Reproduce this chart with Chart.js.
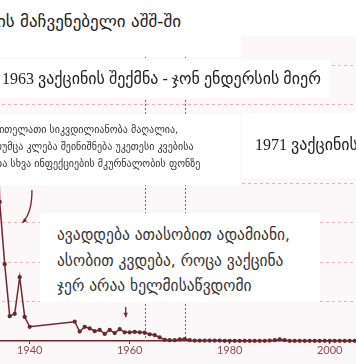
<!DOCTYPE html>
<html><head><meta charset="utf-8">
<script src="https://cdn.jsdelivr.net/npm/chart.js@4.4.1/dist/chart.umd.min.js"></script>
<style>
html,body{margin:0;padding:0;width:356px;height:364px;overflow:hidden;background:#fff;position:relative}
#bg{position:absolute;left:0;top:36px;width:356px;height:328px;background:#fcf7f8}
#wrap{position:absolute;left:-100px;top:0;width:560px;height:364px}
.box{position:absolute;background:#fff}
.t{position:absolute;white-space:nowrap;color:#222;font-family:"DejaVu Sans",sans-serif;line-height:1}
.s{font-family:"Liberation Serif","DejaVu Sans",serif}
</style></head>
<body>
<div id="bg"></div>
<div id="wrap"><canvas id="c" width="560" height="364"></canvas></div>

<div class="box" style="left:0;top:0;width:241px;height:57px"></div>
<div class="t" style="right:175px;top:13px;font-size:17px">წითელათი სიკვდილიანობის მაჩვენებელი აშშ-ში</div>

<div class="box" style="left:0;top:60px;width:330px;height:38px"></div>
<div class="t s" style="left:2px;top:71px;font-size:16px">1963 ვაქცინის შექმნა - ჯონ ენდერსის მიერ</div>

<div class="box" style="left:0;top:114px;width:240px;height:71px"></div>
<div class="t" style="left:-6px;top:125px;font-size:10px;color:#333">წითელათი სიკვდილიანობა მაღალია,</div>
<div class="t" style="left:-6px;top:142px;font-size:10px;color:#333">თუმცა კლება შეინიშნება უკეთესი კვებისა</div>
<div class="t" style="left:-6px;top:159px;font-size:10px;color:#333">და სხვა ინფექციების მკურნალობის ფონზე</div>

<div class="box" style="left:241px;top:113px;width:120px;height:65px"></div>
<div class="t s" style="left:255px;top:137px;font-size:16px">1971 ვაქცინის</div>

<div class="box" style="left:40px;top:213px;width:280px;height:89px"></div>
<div class="t" style="left:57px;top:228px;font-size:15.5px;color:#333">ავადდება ათასობით ადამიანი,</div>
<div class="t" style="left:57px;top:253.5px;font-size:15.5px;color:#333">ასობით კვდება, როცა ვაქცინა</div>
<div class="t" style="left:57px;top:279px;font-size:15.5px;color:#333">ჯერ არაა ხელმისაწვდომი</div>

<script>
// ---- data (measles mortality, relative units; axis labels not visible in the crop) ----
const years = [1933,1934,1935,1936,1937,1938,1939,1940,
  1949,1950,1951,1952,1953,1954,1955,1956,1957,1958,1959,1960,1961,1962,1963,1964,1965,1966,1967,1968,1969,1970,
  1971,1972,1973,1974,1975,1976,1977,1978,1979,1980,1981,1982,1983,1984,1985,1986,1987,1988,1989,1990,
  1991,1992,1993,1994,1995,1996,1997,1998,1999,2000,2001,2002,2003,2004,2005,2006,2007,2008,2009,2010];
const deathRate = [9.0,3.53,1.95,0.63,0.69,1.62,0.61,0.36,
  0.49,0.24,0.36,0.32,0.25,0.28,0.18,0.28,0.20,0.30,0.22,0.22,0.23,0.22,0.21,0.17,0.15,0.09,0.03,0.02,0.02,0.04,
  0.05,0.02,0.01,0.01,0.01,0.01,0.01,0.01,0.005,0.005,0.005,0.005,0.005,0.005,0.005,0.005,0.005,0.01,0.02,0.04,
  0.02,0.005,0.005,0.005,0.005,0.005,0.005,0.005,0.005,0.005,0.005,0.005,0.005,0.005,0.005,0.005,0.005,0.005,0.005,0.005];
const markerYears = [1963, 1971];
const xTickStep = 20;

const MAROON = '#6e2630';
const annot = {
  id: 'annot',
  beforeDatasetsDraw(chart) {
    const {ctx, chartArea: a, scales: {x}} = chart;
    ctx.save();
    ctx.strokeStyle = '#9a5860';
    ctx.lineWidth = 1;
    ctx.setLineDash([2, 2]);
    markerYears.forEach(yr => {
      const px = Math.round(x.getPixelForValue(yr)) + 0.5;
      ctx.beginPath(); ctx.moveTo(px, a.top); ctx.lineTo(px, a.bottom); ctx.stroke();
    });
    ctx.restore();
  },
  afterDatasetsDraw(chart) {
    const {ctx, scales: {x, y}} = chart;
    ctx.save();
    ctx.strokeStyle = MAROON; ctx.fillStyle = MAROON; ctx.lineWidth = 1.3;
    const p0 = [x.getPixelForValue(1940.45), y.getPixelForValue(3.83)];
    const c1 = [x.getPixelForValue(1940.5), y.getPixelForValue(3.25)];
    const p1 = [x.getPixelForValue(1938.55), y.getPixelForValue(3.0)];
    ctx.beginPath(); ctx.moveTo(p0[0], p0[1]); ctx.quadraticCurveTo(c1[0], c1[1], p1[0], p1[1]); ctx.stroke();
    head(ctx, c1, p1, 5);
    const q0 = [x.getPixelForValue(1959.2), y.getPixelForValue(0.86)];
    const q1 = [x.getPixelForValue(1959.2), y.getPixelForValue(0.6)];
    ctx.beginPath(); ctx.moveTo(q0[0], q0[1]); ctx.lineTo(q1[0], q1[1]); ctx.stroke();
    head(ctx, q0, q1, 5);
    ctx.restore();
  }
};
function head(ctx, from, to, s) {
  const ang = Math.atan2(to[1] - from[1], to[0] - from[0]);
  ctx.beginPath();
  ctx.moveTo(to[0], to[1]);
  ctx.lineTo(to[0] - s * Math.cos(ang - 0.45), to[1] - s * Math.sin(ang - 0.45));
  ctx.lineTo(to[0] - s * Math.cos(ang + 0.45), to[1] - s * Math.sin(ang + 0.45));
  ctx.closePath(); ctx.fill();
}

new Chart(document.getElementById('c'), {
  type: 'line',
  data: {
    datasets: [{
      data: years.map((yr, i) => ({x: yr, y: deathRate[i]})),
      borderColor: MAROON, backgroundColor: MAROON,
      borderWidth: 1.5, pointRadius: 1.4, pointHoverRadius: 1.4,
      tension: 0, clip: {left: 10, right: 10, top: 0, bottom: 10}
    }]
  },
  options: {
    responsive: false, animation: false, devicePixelRatio: 1,
    layout: {padding: {left: 29.7, right: 30.3, top: 36, bottom: 6.8}},
    plugins: {legend: {display: false}, tooltip: {enabled: false}},
    scales: {
      x: {
        type: 'linear', min: 1920, max: 2020,
        grid: {display: true, drawOnChartArea: false, drawTicks: true, tickLength: 3, color: MAROON},
        border: {display: true, color: MAROON, width: 1.5},
        ticks: {stepSize: xTickStep, padding: 0, color: '#8b4a50', font: {family: 'Lato', size: 11},
          callback: v => String(v), maxRotation: 0, autoSkip: false}
      },
      y: {
        min: 0, max: 7.741,
        grid: {drawTicks: false, lineWidth: 1,
          color: c => c.tick.value === 0 ? 'rgba(0,0,0,0)' : '#e7b3b9'},
        border: {display: false, dash: [3, 3]},
        ticks: {display: false, stepSize: 1, includeBounds: false}
      }
    }
  },
  plugins: [annot]
});
</script>
</body></html>
